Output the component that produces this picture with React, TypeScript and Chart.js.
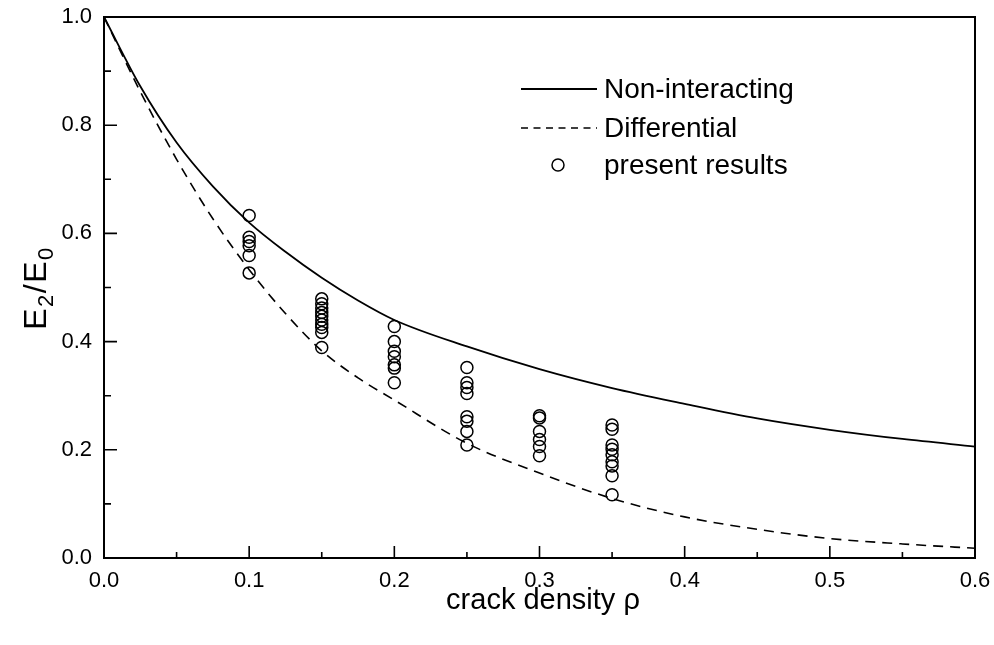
import React, { useEffect, useRef } from "react";
import { Chart, registerables } from "chart.js";

Chart.register(...registerables);

// ---- data ----
const curveX = [0, 0.025, 0.05, 0.075, 0.1, 0.125, 0.15, 0.175, 0.2, 0.25, 0.3, 0.35, 0.4, 0.45, 0.5, 0.55, 0.6];
const nonInteracting = [1.0, 0.872, 0.768, 0.687, 0.62, 0.566, 0.518, 0.476, 0.44, 0.391, 0.349, 0.314, 0.285, 0.258, 0.237, 0.22, 0.206];
const differential = [1.0, 0.862, 0.737, 0.627, 0.533, 0.452, 0.383, 0.333, 0.292, 0.212, 0.157, 0.11, 0.076, 0.053, 0.036, 0.026, 0.018];

const res010 = [0.633, 0.593, 0.585, 0.577, 0.559, 0.527];
const res015 = [0.479, 0.47, 0.462, 0.454, 0.447, 0.44, 0.432, 0.426, 0.417, 0.389];
const res020 = [0.428, 0.4, 0.382, 0.372, 0.357, 0.351, 0.324];
const res025 = [0.352, 0.324, 0.315, 0.304, 0.261, 0.253, 0.234, 0.209];
const res030 = [0.263, 0.259, 0.234, 0.219, 0.206, 0.189];
const res035 = [0.246, 0.238, 0.209, 0.201, 0.191, 0.178, 0.17, 0.152, 0.117];
const resultX = [0.1, 0.15, 0.2, 0.25, 0.3, 0.35];
const resultY = [res010, res015, res020, res025, res030, res035];

const xTicksMajor = [0, 0.1, 0.2, 0.3, 0.4, 0.5, 0.6];
const xTicksMinor = [0.05, 0.15, 0.25, 0.35, 0.45, 0.55];
const yTicksMajor = [0, 0.2, 0.4, 0.6, 0.8, 1.0];
const yTicksMinor = [0.1, 0.3, 0.5, 0.7, 0.9];

const legendLabels = ["Non-interacting", "Differential", "present results"];
const xTitle = "crack density \u03c1";

const FONT = "'Liberation Sans', Arial, Helvetica, sans-serif";

const decorPlugin = {
  id: "decor",
  afterDraw(chart: any) {
    const ctx = chart.ctx;
    const { left, right, top, bottom } = chart.chartArea;
    const xs = chart.scales.x;
    const ys = chart.scales.y;
    ctx.save();
    ctx.strokeStyle = "#000";
    ctx.lineWidth = 2;
    ctx.strokeRect(left, top, right - left, bottom - top);
    ctx.lineWidth = 1.6;
    ctx.beginPath();
    xTicksMajor.forEach((v) => {
      const px = xs.getPixelForValue(v);
      ctx.moveTo(px, bottom);
      ctx.lineTo(px, bottom - 12);
    });
    xTicksMinor.forEach((v) => {
      const px = xs.getPixelForValue(v);
      ctx.moveTo(px, bottom);
      ctx.lineTo(px, bottom - 6);
    });
    yTicksMajor.forEach((v) => {
      const py = ys.getPixelForValue(v);
      ctx.moveTo(left, py);
      ctx.lineTo(left + 13, py);
    });
    yTicksMinor.forEach((v) => {
      const py = ys.getPixelForValue(v);
      ctx.moveTo(left, py);
      ctx.lineTo(left + 7, py);
    });
    ctx.stroke();

    // x title
    ctx.fillStyle = "#000";
    ctx.font = `29px ${FONT}`;
    ctx.textAlign = "center";
    ctx.textBaseline = "middle";
    ctx.fillText(xTitle, 543, 601);

    // y title with subscripts
    const parts: [string, number, number][] = [
      ["E", 32, 0],
      ["2", 22, 7],
      ["/", 32, 0],
      ["E", 32, 0],
      ["0", 22, 7],
    ];
    const gap = 1.5;
    let total = 0;
    parts.forEach(([t, s]) => {
      ctx.font = `${s}px ${FONT}`;
      total += ctx.measureText(t).width + gap;
    });
    ctx.translate(35, 288);
    ctx.rotate(-Math.PI / 2);
    ctx.textAlign = "left";
    ctx.textBaseline = "alphabetic";
    let cx = -total / 2;
    parts.forEach(([t, s, dy]) => {
      ctx.font = `${s}px ${FONT}`;
      ctx.fillText(t, cx, 11 + dy);
      cx += ctx.measureText(t).width + gap;
    });
    ctx.restore();

    // legend
    ctx.save();
    const ds = chart.data.datasets;
    const rows = [89, 128, 165];
    ctx.font = `28px ${FONT}`;
    ctx.textAlign = "left";
    ctx.textBaseline = "middle";
    ctx.fillStyle = "#000";
    ctx.strokeStyle = ds[0].borderColor;
    ctx.lineWidth = ds[0].borderWidth;
    ctx.setLineDash([]);
    ctx.beginPath();
    ctx.moveTo(521, rows[0]);
    ctx.lineTo(597, rows[0]);
    ctx.stroke();
    ctx.strokeStyle = ds[1].borderColor;
    ctx.lineWidth = ds[1].borderWidth;
    ctx.setLineDash([7, 5.5]);
    ctx.beginPath();
    ctx.moveTo(521, rows[1]);
    ctx.lineTo(597, rows[1]);
    ctx.stroke();
    ctx.setLineDash([]);
    ctx.strokeStyle = ds[2].borderColor;
    ctx.lineWidth = ds[2].borderWidth;
    ctx.beginPath();
    ctx.arc(558, rows[2], ds[2].pointRadius, 0, Math.PI * 2);
    ctx.stroke();
    legendLabels.forEach((l, i) => ctx.fillText(l, 604, rows[i] + 1));
    ctx.restore();
  },
};

export default function App() {
  const ref = useRef<HTMLCanvasElement | null>(null);
  useEffect(() => {
    document.body.style.margin = "0";
    const points: { x: number; y: number }[] = [];
    resultX.forEach((x, i) => resultY[i].forEach((y) => points.push({ x, y })));
    const chart = new Chart(ref.current as HTMLCanvasElement, {
      type: "scatter",
      data: {
        datasets: [
          {
            label: legendLabels[0],
            data: curveX.map((x, i) => ({ x, y: nonInteracting[i] })),
            showLine: true,
            borderColor: "#000",
            borderWidth: 1.8,
            pointRadius: 0,
            cubicInterpolationMode: "monotone",
            fill: false,
          } as any,
          {
            label: legendLabels[1],
            data: curveX.map((x, i) => ({ x, y: differential[i] })),
            showLine: true,
            borderColor: "#000",
            borderWidth: 1.6,
            borderDash: [10, 7],
            pointRadius: 0,
            cubicInterpolationMode: "monotone",
            fill: false,
          } as any,
          {
            label: legendLabels[2],
            data: points,
            showLine: false,
            borderColor: "#000",
            backgroundColor: "rgba(0,0,0,0)",
            borderWidth: 1.5,
            pointRadius: 6,
            pointStyle: "circle",
          } as any,
        ],
      },
      options: {
        animation: false,
        responsive: true,
        maintainAspectRatio: false,
        layout: { padding: { top: 17, right: 19, left: 0, bottom: 0 } },
        plugins: { legend: { display: false }, tooltip: { enabled: false } },
        scales: {
          x: {
            type: "linear",
            min: 0,
            max: 0.6,
            afterBuildTicks: (s: any) => {
              s.ticks = xTicksMajor.map((v) => ({ value: v }));
            },
            afterFit: (s: any) => {
              s.height = 87;
              s.paddingLeft = 0;
              s.paddingRight = 0;
            },
            grid: { display: false, drawTicks: false },
            border: { display: false },
            ticks: {
              padding: 10,
              color: "#000",
              font: { family: FONT, size: 22 },
              maxRotation: 0,
              callback: (v: any) => Number(v).toFixed(1),
            },
          },
          y: {
            type: "linear",
            min: 0,
            max: 1.0,
            afterBuildTicks: (s: any) => {
              s.ticks = yTicksMajor.map((v) => ({ value: v }));
            },
            afterFit: (s: any) => {
              s.width = 104;
              s.paddingTop = 0;
              s.paddingBottom = 0;
            },
            grid: { display: false, drawTicks: false },
            border: { display: false },
            ticks: {
              padding: 12,
              color: "#000",
              font: { family: FONT, size: 22 },
              callback: (v: any) => Number(v).toFixed(1),
            },
          },
        },
      },
      plugins: [decorPlugin],
    });
    return () => chart.destroy();
  }, []);
  return (
    <div style={{ width: 994, height: 645, position: "relative", background: "#fff" }}>
      <canvas ref={ref} />
    </div>
  );
}
